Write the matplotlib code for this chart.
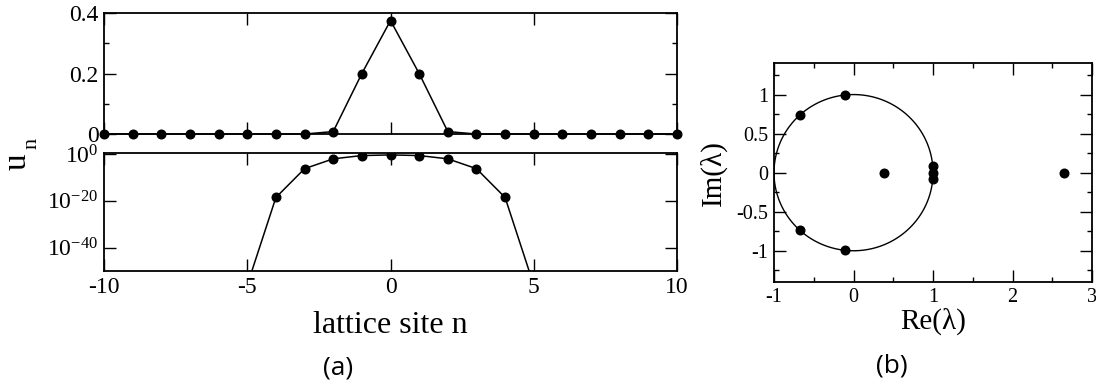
import matplotlib
matplotlib.use("Agg")
import matplotlib.pyplot as plt
import numpy as np
from matplotlib.ticker import MultipleLocator, FixedLocator, FuncFormatter

plt.rcParams['font.family'] = 'Liberation Serif'
plt.rcParams['mathtext.fontset'] = 'custom'
plt.rcParams['mathtext.rm'] = 'Liberation Serif'
plt.rcParams['mathtext.it'] = 'Liberation Serif:italic'
plt.rcParams['axes.unicode_minus'] = False

# site amplitudes of the localized mode, n = -10..10
sites = np.arange(-10, 11)
amp = [0, 0, 0, 0, 1e-168, 1e-56, 2.5e-19, 5e-7, 8e-3, 0.2, 0.375,
       0.2, 8e-3, 5e-7, 2.5e-19, 1e-56, 1e-168, 0, 0, 0, 0]

# Floquet multipliers
eig_re = [-0.673, -0.673, -0.107, -0.107, 0.38, 1.0, 1.0, 1.0, 2.65]
eig_im = [0.735, -0.735, 0.99, -0.99, 0.0, 0.085, 0.0, -0.085, 0.0]

def setTicks(ax, size):
    ax.tick_params(which='both', direction='in', top=True, right=True,
                   width=1, labelsize=size, pad=4)
    ax.tick_params(which='major', length=8.5)
    ax.tick_params(which='minor', length=3.6)
    for s in ax.spines.values():
        s.set_linewidth(1.3)

def plain():
    return FuncFormatter(lambda v, p: '%g' % v)

fig = plt.figure(figsize=(10.96, 3.87), dpi=100)

# linear profile
ax1 = fig.add_axes([0.0949, 0.6537, 0.5228, 0.3127])
ax1.plot(sites, amp, '-', color='black', lw=1.1, marker='o', ms=6.2, clip_on=False, zorder=3)
ax1.set_xlim(-10, 10)
ax1.set_ylim(0, 0.4)
ax1.xaxis.set_major_locator(MultipleLocator(5))
ax1.yaxis.set_major_locator(FixedLocator([0, 0.2, 0.4]))
ax1.yaxis.set_minor_locator(FixedLocator([0.1, 0.3]))
ax1.yaxis.set_major_formatter(plain())
ax1.tick_params(labelbottom=False)
setTicks(ax1, 17)

# log profile
amp = np.array(amp)
pos = amp > 0
ax2 = fig.add_axes([0.0949, 0.2997, 0.5228, 0.305])
ax2.plot(sites[pos], amp[pos], '-', color='black', lw=1.1, marker='o', ms=6.2, zorder=3)
ax2.set_yscale('log')
ax2.set_xlim(-10, 10)
ax2.set_ylim(1e-50, 10 ** 0.4)
ax2.xaxis.set_major_locator(MultipleLocator(5))
ax2.xaxis.set_major_formatter(plain())
ax2.yaxis.set_major_locator(FixedLocator([1e-40, 1e-20, 1]))
ax2.yaxis.set_minor_locator(FixedLocator([]))
ax2.yaxis.set_major_formatter(FuncFormatter(lambda v, p: r'10$^{%d}$' % round(np.log10(v))))
setTicks(ax2, 17)
ax2.set_xlabel('lattice site n', fontsize=23, labelpad=10)

fig.text(0.016, 0.581, 'u', fontsize=24, rotation=90, ha='center', va='center')
fig.text(0.029, 0.630, 'n', fontsize=16, rotation=90, ha='center', va='center')

# multipliers in the complex plane
ax3 = fig.add_axes([0.7062, 0.2713, 0.2902, 0.5651])
t = np.linspace(0, 2 * np.pi, 400)
ax3.plot(np.cos(t), np.sin(t), color='black', lw=1.0)
ax3.plot(eig_re, eig_im, 'o', color='black', ms=6.2, zorder=3)
ax3.set_xlim(-1, 3)
ax3.set_ylim(-1.4, 1.4)
ax3.xaxis.set_major_locator(MultipleLocator(1))
ax3.xaxis.set_minor_locator(MultipleLocator(0.5))
ax3.yaxis.set_major_locator(MultipleLocator(0.5))
ax3.yaxis.set_minor_locator(MultipleLocator(0.25))
ax3.xaxis.set_major_formatter(plain())
ax3.yaxis.set_major_formatter(plain())
setTicks(ax3, 14.5)
ax3.set_xlabel('Re(λ)', fontsize=21, labelpad=1)
ax3.set_ylabel('Im(λ)', fontsize=21, labelpad=7)

fig.text(0.308, 0.05, '(a)', fontsize=19, family='Open Sans', ha='center', va='center')
fig.text(0.814, 0.055, '(b)', fontsize=19, family='Open Sans', ha='center', va='center')

fig.savefig('out.png', dpi=100)
